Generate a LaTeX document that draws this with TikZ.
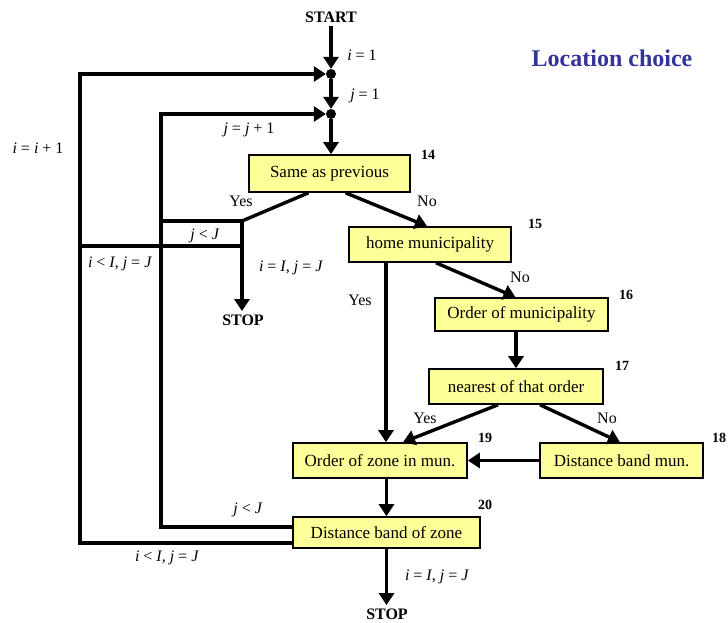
\documentclass[tikz,border=0pt]{standalone}
\usepackage{fontspec}
\setmainfont{Liberation Serif}
\usetikzlibrary{arrows.meta,calc}
\definecolor{boxyellow}{RGB}{255,255,153}
\definecolor{titleblue}{RGB}{51,51,153}

\begin{document}
\begin{tikzpicture}[x=1pt, y=-1pt,
                flownode/.style = {rectangle, draw, line width=1.6pt, fill=boxyellow, minimum height=35pt, inner sep=0pt, font=\fontsize{17}{19}\selectfont},
                junction/.style = {circle, fill, inner sep=0pt, minimum size=10pt},
                flowline/.style = {line width=3.4pt},
                flowarrow/.style = {line width=3.4pt, -{Triangle[length=12pt,width=15pt]}},
                cond/.style = {font=\fontsize{16}{18}\selectfont},
                boxnum/.style = {font=\fontsize{14}{16}\selectfont\bfseries},
                term/.style = {font=\fontsize{16}{18}\selectfont\bfseries}
        ]
        \useasboundingbox (0,0) rectangle (728,623);

        \node[term] (start) at (331,17) {START};
        \node[junction] (d1) at (331,74) {};
        \node[junction] (d2) at (331,114) {};
        \node[font=\fontsize{24}{26}\selectfont\bfseries, text=titleblue] (title) at (612,58) {Location choice};

        \node[flownode, minimum width=161pt, minimum height=37pt] (b14) at (329.5,173.5) {Same as previous};
        \node[flownode, minimum width=162pt] (b15) at (430,244.5) {home municipality};
        \node[flownode, minimum width=173pt, minimum height=33pt] (b16) at (521.5,314.5) {Order of municipality};
        \node[flownode, minimum width=174pt] (b17) at (516,386.5) {nearest of that order};
        \node[flownode, minimum width=163pt] (b18) at (621.5,460.5) {Distance band mun.};
        \node[flownode, minimum width=174pt] (b19) at (380,460.5) {Order of zone in mun.};
        \node[flownode, minimum width=187pt, minimum height=31pt] (b20) at (386.5,532.5) {Distance band of zone};

        \node[boxnum] (n14) at (428,155) {14};
        \node[boxnum] (n15) at (535,224) {15};
        \node[boxnum] (n16) at (626,295) {16};
        \node[boxnum] (n17) at (622,366) {17};
        \node[boxnum] (n18) at (719,438) {18};
        \node[boxnum] (n19) at (485,438) {19};
        \node[boxnum] (n20) at (485,505) {20};

        \node[term] (stop1) at (243,320) {STOP};
        \node[term] (stop2) at (387,614) {STOP};

        \coordinate (l1) at (80,0);
        \coordinate (l2) at (161,0);
        \coordinate (jn) at (242,221);
        \coordinate (jm) at (242,246);

        \draw[flowarrow] (start) -- (d1);
        \draw[flowarrow] (d1) -- (d2);
        \draw[flowarrow] (d2) -- (d2 |- b14.north);

        \draw[flowline] ($(b14.south)+(-21,0)$) -- (jn);
        \draw[flowline] (jn) -- (jn -| l2);
        \draw[flowline] (jm) -- (jm -| l1);
        \draw[flowarrow] (jn) -- (stop1.north -| jn);
        \draw[flowarrow] ($(b14.south)+(16,0)$) -- ($(b15.north)+(-3,0)$);

        \draw[flowarrow] ($(b15.south)+(-44,0)$) -- ($(b19.north)+(6,0)$);
        \draw[flowarrow] ($(b15.south)+(6,0)$) -- ($(b16.north)+(-6,0)$);
        \draw[flowarrow] (b17.north |- b16.south) -- (b17.north);
        \draw[flowarrow] ($(b17.south)+(-18,0)$) -- ($(b19.north)+(23,0)$);
        \draw[flowarrow] ($(b17.south)+(24,0)$) -- ($(b18.north)+(-1.5,0)$);
        \draw[flowarrow] (b18.west) -- (b19.east);
        \draw[flowarrow] (b20.north |- b19.south) -- (b20.north);
        \draw[flowarrow] (b20.south) -- (b20.south |- stop2.north);

        \draw[flowarrow] ($(b20.west)+(0,-5.5)$) -| (l2 |- d2) -- (d2);
        \draw[flowarrow] ($(b20.west)+(0,10.5)$) -| (l1 |- d1) -- (d1);

        \node[cond] at (362,55) {\textit{i} = 1};
        \node[cond] at (365,96) {\textit{j} = 1};
        \node[cond] at (249,130) {\textit{j} = \textit{j} + 1};
        \node[cond] at (38,148) {\textit{i} = \textit{i} + 1};
        \node[cond] at (241,201) {Yes};
        \node[cond] at (427,201) {No};
        \node[cond] at (205,236) {\textit{j} {\textless} \textit{J}};
        \node[cond] at (120,264) {\textit{i} {\textless} \textit{I}, \textit{j} = \textit{J}};
        \node[cond] at (291,268) {\textit{i} = \textit{I}, \textit{j} = \textit{J}};
        \node[cond] at (360,300) {Yes};
        \node[cond] at (520,277) {No};
        \node[cond] at (425,418) {Yes};
        \node[cond] at (607,418) {No};
        \node[cond] at (248,510) {\textit{j} {\textless} \textit{J}};
        \node[cond] at (167,558) {\textit{i} {\textless} \textit{I}, \textit{j} = \textit{J}};
        \node[cond] at (437,577) {\textit{i} = \textit{I}, \textit{j} = \textit{J}};
\end{tikzpicture}
\end{document}
